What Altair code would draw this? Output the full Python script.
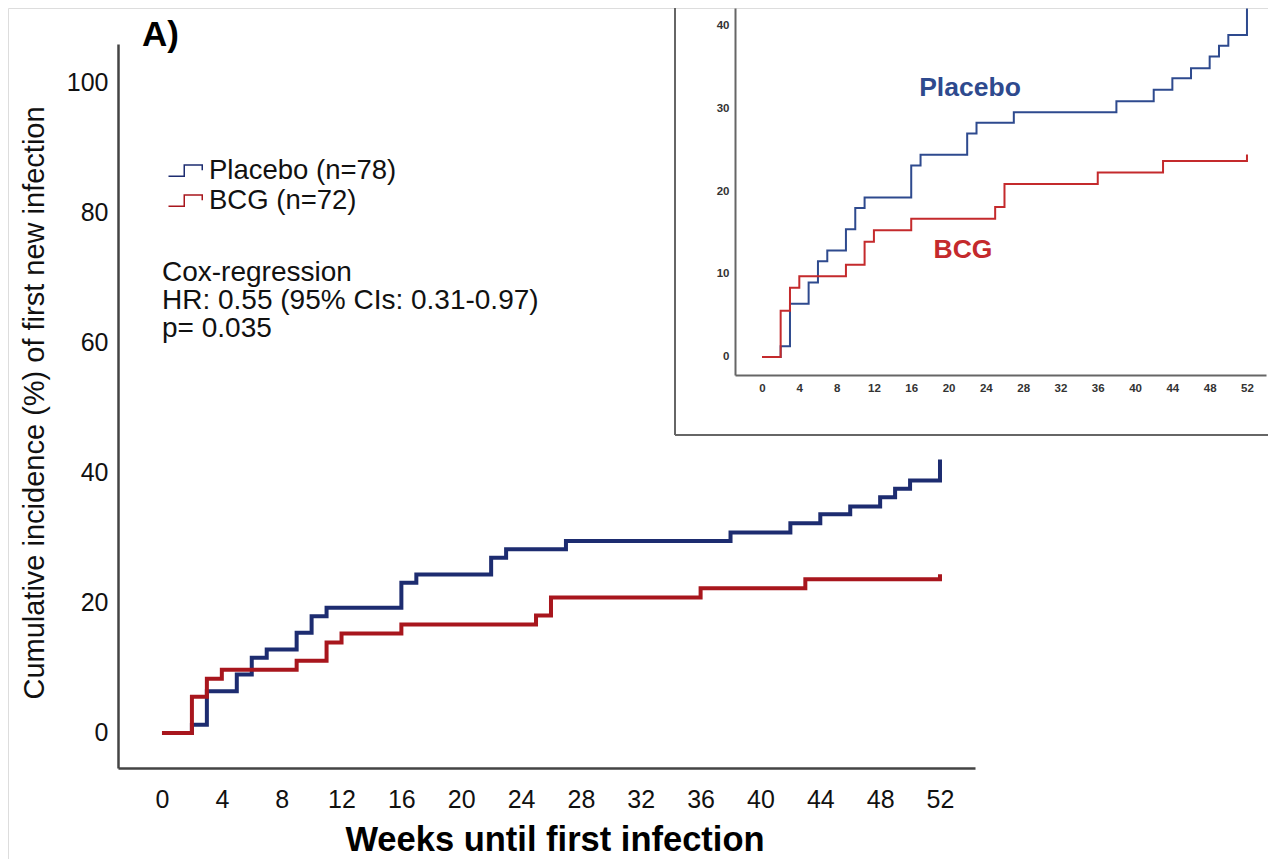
import altair as alt
import pandas as pd

# ---- data ----
groups = ["Placebo (n=78)", "BCG (n=72)"]
weeks_placebo = [0, 2, 3, 5, 6, 7, 9, 10, 11, 16, 17, 22, 23, 27, 38, 42, 44, 46, 48, 49, 50, 52, 52]
inc_placebo = [0, 1.28, 6.41, 8.97, 11.54, 12.82, 15.38, 17.95, 19.23, 23.08, 24.36, 26.92, 28.21,
               29.49, 30.8, 32.2, 33.6, 34.8, 36.2, 37.5, 38.8, 38.8, 42.0]
weeks_bcg = [0, 2, 3, 4, 9, 11, 12, 16, 25, 26, 36, 43, 52, 52]
inc_bcg = [0, 5.56, 8.33, 9.72, 11.11, 13.89, 15.28, 16.67, 18.06, 20.83, 22.22, 23.61, 23.61, 24.4]
x_ticks = [0, 4, 8, 12, 16, 20, 24, 28, 32, 36, 40, 44, 48, 52]
y_ticks = [0, 20, 40, 60, 80, 100]
inset_y_ticks = [0, 10, 20, 30, 40]

rows = []
for g, ws, vs in [(groups[0], weeks_placebo, inc_placebo), (groups[1], weeks_bcg, inc_bcg)]:
    for i, (w, v) in enumerate(zip(ws, vs)):
        rows.append({"group": g, "week": w, "pct": v, "idx": i})
df = pd.DataFrame(rows)

FONT = "Liberation Sans"
W, H = 1260, 851

main_blue, main_red = "#1d2c70", "#a8161d"
ins_blue, ins_red = "#2e4a8e", "#c42a2c"

main = alt.Chart(df).mark_line(interpolate="step-after", strokeWidth=4, strokeJoin="miter").encode(
    x=alt.X("week:Q",
            scale=alt.Scale(domain=[-2.94, 54.34], range=[110, 967], nice=False, zero=False),
            axis=alt.Axis(values=x_ticks, orient="bottom", offset=-91, title=None, ticks=False,
                          labelFontSize=25, labelPadding=19, labelColor="#111", labelFont=FONT,
                          domainColor="#444", domainWidth=2.5, grid=False, labelFlush=False)),
    y=alt.Y("pct:Q",
            scale=alt.Scale(domain=[-5.38, 105.84], range=[760, 36], nice=False, zero=False),
            axis=alt.Axis(values=y_ticks, orient="left", offset=-110, title=None, ticks=False,
                          labelFontSize=25, labelPadding=10, labelColor="#111", labelFont=FONT,
                          domainColor="#444", domainWidth=2.5, grid=False, labelFlush=False)),
    color=alt.Color("group:N",
                    scale=alt.Scale(domain=groups, range=[main_blue, main_red]),
                    legend=alt.Legend(title=None, orient="none", legendX=164, legendY=147,
                                      symbolType="M-1.3,0.35H-0.25V-0.4H0.95V-0.05",
                                      symbolSize=900, symbolStrokeWidth=1.5,
                                      symbolFillColor="transparent",
                                      labelFontSize=27.5, labelColor="#111", labelFont=FONT,
                                      labelLimit=400, labelOffset=5, rowPadding=0)),
    order="idx:Q",
)

inset = alt.Chart(df).mark_line(interpolate="step-after", strokeWidth=2).encode(
    x=alt.X("week:Q",
            scale=alt.Scale(domain=[-2.895, 54.04], range=[727, 1258], nice=False, zero=False),
            axis=alt.Axis(values=x_ticks, orient="bottom", offset=-484, title=None, ticks=False,
                          labelFontSize=11.5, labelFontWeight="bold", labelPadding=7,
                          labelColor="#333", labelFont=FONT,
                          domainColor="#666", domainWidth=2, grid=False, labelFlush=False)),
    y=alt.Y("pct:Q",
            scale=alt.Scale(domain=[-2.17, 42.05], range=[367, 0], nice=False, zero=False),
            axis=alt.Axis(values=inset_y_ticks, orient="left", offset=-727, title=None, ticks=False,
                          labelFontSize=11.5, labelFontWeight="bold", labelPadding=6,
                          labelColor="#333", labelFont=FONT,
                          domainColor="#666", domainWidth=2, grid=False, labelFlush=False)),
    color=alt.Color("group:N", scale=alt.Scale(domain=groups, range=[ins_blue, ins_red]), legend=None),
    order="idx:Q",
)

one = pd.DataFrame({"k": [0]})

frame_left = alt.Chart(one).mark_rule(color="#666", strokeWidth=2).encode(
    x=alt.value(667), y=alt.value(-2), y2=alt.value(427))
frame_bottom = alt.Chart(one).mark_rule(color="#666", strokeWidth=2).encode(
    x=alt.value(667), x2=alt.value(1262), y=alt.value(427))

def label(text, x, y, size, weight="normal", color="#111", align="left", baseline="alphabetic",
          angle=0, line_height=None):
    kw = dict(font=FONT, fontSize=size, fontWeight=weight, color=color, align=align,
              baseline=baseline, angle=angle)
    if line_height is not None:
        kw["lineBreak"] = "\n"
        kw["lineHeight"] = line_height
    return alt.Chart(pd.DataFrame({"t": [text]})).mark_text(**kw).encode(
        text="t:N", x=alt.value(x), y=alt.value(y))

panel = label("A)", 134, 38, 35, weight="bold", color="#000")
ytitle = label("Cumulative incidence (%) of first new infection", 27, 395, 29,
               align="center", baseline="middle", angle=270)
xtitle = label("Weeks until first infection", 547, 843, 34.5, weight="bold",
               align="center", baseline="alphabetic", color="#000")
cox = label("Cox-regression\nHR: 0.55 (95% CIs: 0.31-0.97)\np= 0.035", 154, 273, 28,
            line_height=28)
pl_lab = label("Placebo", 962, 80, 26.5, weight="bold", color=ins_blue, align="center", baseline="middle")
bcg_lab = label("BCG", 955, 242, 26.5, weight="bold", color=ins_red, align="center", baseline="middle")

chart = alt.layer(
    main, inset, frame_left, frame_bottom, panel, ytitle, xtitle, cox, pl_lab, bcg_lab
).resolve_scale(
    x="independent", y="independent", color="independent"
).properties(
    width=W, height=H, autosize=alt.AutoSizeParams(type="none"), padding=0
).configure_view(
    stroke="transparent", strokeWidth=0, strokeOpacity=0
).configure(font=FONT, background="white")

chart.save("out.html", embed_options={"renderer": "svg", "actions": False})
